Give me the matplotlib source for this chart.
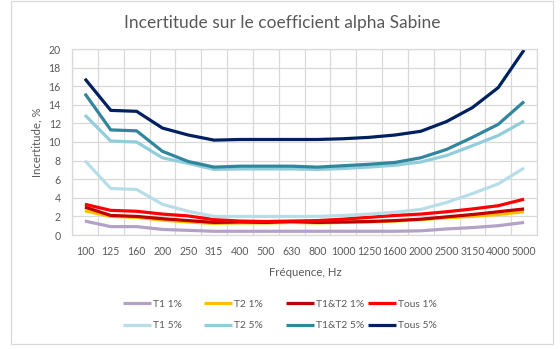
import matplotlib
matplotlib.use("Agg")
import matplotlib.pyplot as plt
import numpy as np

categories = ['100', '125', '160', '200', '250', '315', '400', '500', '630', '800',
              '1000', '1250', '1600', '2000', '2500', '3150', '4000', '5000']

t1_1 = [1.5, 0.9, 0.9, 0.6, 0.5, 0.4, 0.4, 0.4, 0.4, 0.4, 0.4, 0.4, 0.4, 0.45, 0.65, 0.8, 1.0, 1.35]
t2_1 = [2.6, 2.0, 1.9, 1.6, 1.4, 1.25, 1.3, 1.3, 1.35, 1.3, 1.35, 1.4, 1.5, 1.65, 1.85, 2.0, 2.2, 2.5]
t1t2_1 = [3.0, 2.1, 2.0, 1.75, 1.55, 1.35, 1.4, 1.35, 1.45, 1.35, 1.4, 1.45, 1.55, 1.7, 1.95, 2.2, 2.5, 2.8]
tous_1 = [3.3, 2.65, 2.55, 2.25, 2.05, 1.65, 1.5, 1.45, 1.5, 1.55, 1.7, 1.9, 2.1, 2.25, 2.5, 2.8, 3.15, 3.85]
t1_5 = [8.0, 5.0, 4.9, 3.3, 2.55, 2.0, 2.0, 2.0, 2.0, 2.0, 2.1, 2.25, 2.45, 2.75, 3.5, 4.45, 5.5, 7.2]
t2_5 = [12.9, 10.1, 10.0, 8.3, 7.7, 7.05, 7.1, 7.1, 7.1, 7.05, 7.15, 7.3, 7.5, 7.85, 8.55, 9.6, 10.7, 12.25]
t1t2_5 = [15.2, 11.3, 11.2, 9.0, 7.9, 7.3, 7.4, 7.4, 7.4, 7.3, 7.45, 7.6, 7.8, 8.3, 9.2, 10.5, 11.9, 14.35]
tous_5 = [16.8, 13.4, 13.3, 11.5, 10.75, 10.2, 10.27, 10.27, 10.27, 10.27, 10.35, 10.5, 10.75, 11.15, 12.2, 13.7, 15.85, 19.9]

series_names = ['T1 1%', 'T2 1%', 'T1&T2 1%', 'Tous 1%', 'T1 5%', 'T2 5%', 'T1&T2 5%', 'Tous 5%']
series_values = [t1_1, t2_1, t1t2_1, tous_1, t1_5, t2_5, t1t2_5, tous_5]
series_colors = ['#B3A2C7', '#FFC000', '#C00000', '#FF0000',
                 '#B7DEE8', '#92CDDC', '#31859C', '#002060']

plt.rcParams['font.family'] = ['Lato', 'DejaVu Sans']
TXT = '#595959'
GRID = '#D9D9D9'

W, H = 560, 349
fig = plt.figure(figsize=(W / 100, H / 100), dpi=100)
fig.patch.set_facecolor('white')

# outer chart border
border = plt.Rectangle((11 / W, 1 - 344 / H), (553 - 11) / W, (344 - 0.5) / H,
                       transform=fig.transFigure, fill=False, edgecolor=GRID, lw=0.9)
fig.add_artist(border)

ax = fig.add_axes([72 / W, 1 - 235 / H, (537 - 72) / W, (235 - 49) / H])
x = np.arange(len(categories))
lines = []
for name, vals, col in zip(series_names, series_values, series_colors):
    ln, = ax.plot(x, vals, color=col, lw=2.3, label=name, solid_capstyle='butt',
                  solid_joinstyle='round')
    lines.append(ln)

ax.set_xlim(-0.5, len(categories) - 0.5)
ax.set_ylim(0, 20)
ax.set_yticks(np.arange(0, 21, 2))
ax.set_xticks(x)
ax.set_xticklabels(categories)
ax.set_xticks(np.arange(-0.5, len(categories)), minor=True)
ax.grid(True, axis='y', which='major', color=GRID, lw=0.9)
ax.grid(True, axis='x', which='minor', color=GRID, lw=0.9)
ax.grid(False, axis='x', which='major')
ax.set_axisbelow(True)
for s in ax.spines.values():
    s.set_color(GRID)
    s.set_linewidth(0.9)
ax.tick_params(axis='both', which='both', length=0, labelsize=7.6, colors=TXT)
ax.tick_params(axis='y', pad=8)
ax.tick_params(axis='x', pad=8)

fig.text(282 / W, 1 - 23 / H, 'Incertitude sur le coefficient alpha Sabine',
         ha='center', va='center', fontsize=12.5, color=TXT)
fig.text(305 / W, 1 - 272 / H, 'Fréquence, Hz', ha='center', va='center',
         fontsize=8.2, color=TXT)
fig.text(37 / W, 1 - 142 / H, 'Incertitude, %', ha='center', va='center',
         rotation=90, fontsize=8.2, color=TXT)

leg_x = [123, 204, 286, 368]
for i, lx in enumerate(leg_x):
    leg = fig.legend(handles=[lines[i], lines[i + 4]], loc='center left',
                     bbox_to_anchor=(lx / W, 1 - 315 / H), frameon=False,
                     fontsize=7.4, handlelength=2.7, handletextpad=0.2,
                     labelspacing=1.15, borderpad=0, borderaxespad=0)
    for t in leg.get_texts():
        t.set_color(TXT)

fig.savefig('out.png', dpi=100, facecolor='white')
